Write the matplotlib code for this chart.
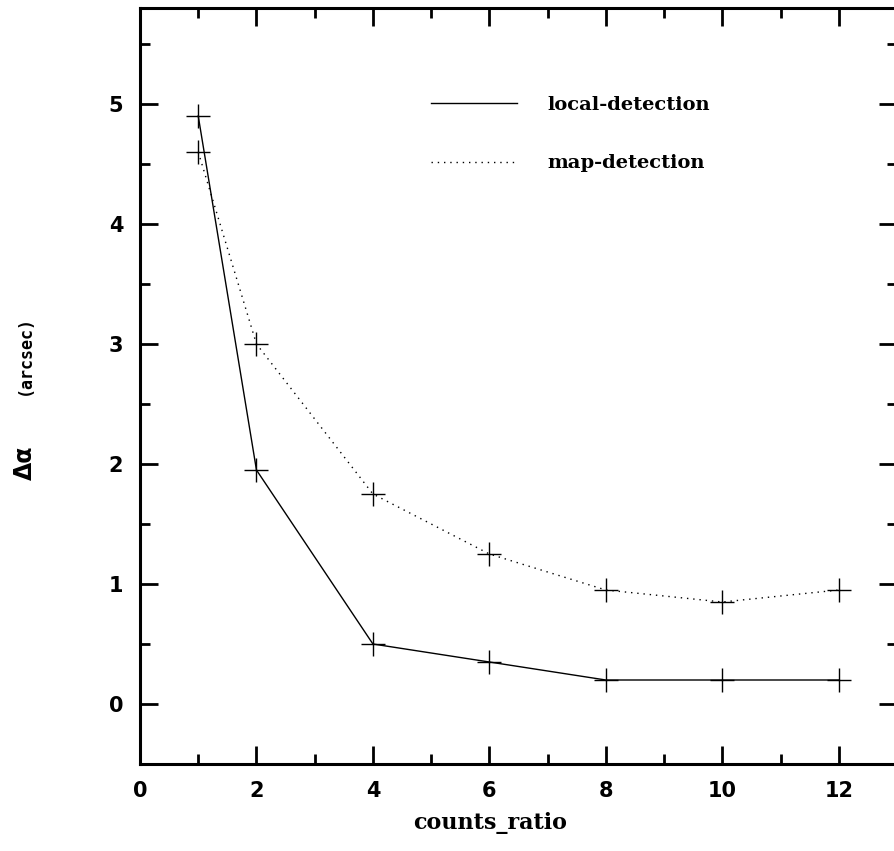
import matplotlib
matplotlib.use("Agg")
import matplotlib.pyplot as plt

ratio = [1, 2, 4, 6, 8, 10, 12]
local_det = [4.9, 1.95, 0.5, 0.35, 0.2, 0.2, 0.2]
map_det = [4.6, 3.0, 1.75, 1.25, 0.95, 0.85, 0.95]

plt.rcParams['xtick.direction'] = 'in'
plt.rcParams['ytick.direction'] = 'in'

fig = plt.figure(figsize=(8.94, 8.51), dpi=100)
ax = fig.add_axes([140/894, 1 - 764/851, 757/894, (764 - 8)/851])

ax.plot(ratio, local_det, color='black', lw=1.0, marker='+', ms=17, mew=1.0,
        label='local-detection')
ax.plot(ratio, map_det, color='black', lw=1.0, ls=(0, (1, 3.5)), marker='+', ms=17, mew=1.0,
        label='map-detection')

ax.set_xlim(0, 13)
ax.set_ylim(-0.5, 5.8)
ax.set_xticks([0, 2, 4, 6, 8, 10, 12])
ax.set_xticks(range(0, 14), minor=True)
ax.set_yticks([0, 1, 2, 3, 4, 5])
ax.set_yticks([-0.5 + 0.5 * i for i in range(13)], minor=True)

for s in ax.spines.values():
    s.set_linewidth(2.2)
ax.tick_params(which='major', length=13, width=2.0, top=True, right=True, labelsize=15, pad=12)
ax.tick_params(which='minor', length=7, width=2.0, top=True, right=True)
for lab in ax.get_xticklabels() + ax.get_yticklabels():
    lab.set_fontweight('bold')

ax.set_xlabel('counts_ratio', fontsize=16, family='DejaVu Serif', fontweight='bold', labelpad=8)
ax.xaxis.label.set_x(350/757)

# y label: big delta-alpha plus small unit, as in the original
fig.text(25/894, 1 - 463/851, 'Δα', rotation=90, fontsize=17,
         ha='center', va='center', fontweight='bold')
fig.text(25/894, 1 - 355/851, '(arcsec)', rotation=90, fontsize=12,
         family='DejaVu Sans Mono', fontweight='bold', ha='center', va='center')

leg = ax.legend(frameon=False, loc='upper left', bbox_to_anchor=(273/757, 1 - 70/756),
                handlelength=4.45, handletextpad=1.55, labelspacing=2.1,
                prop={'family': 'DejaVu Serif', 'weight': 'bold', 'size': 14})
for h in leg.legend_handles:
    h.set_marker('')

fig.savefig('out.png', dpi=100)
